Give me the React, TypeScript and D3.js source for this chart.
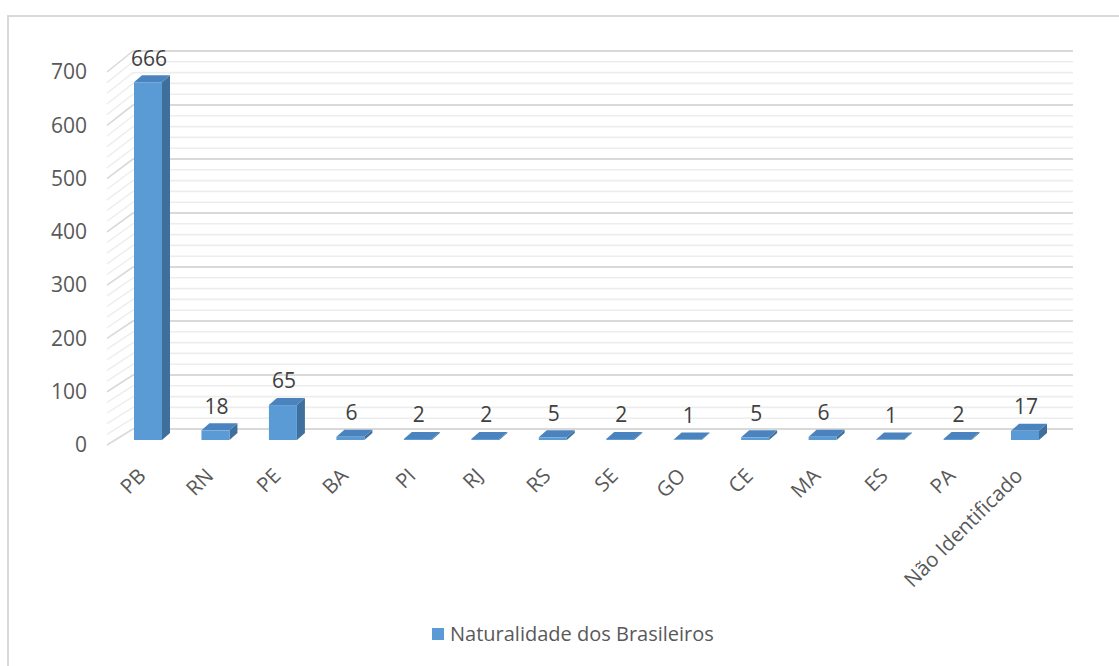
import React from "react";
import * as d3 from "d3";

const categories = ["PB", "RN", "PE", "BA", "PI", "RJ", "RS", "SE", "GO", "CE", "MA", "ES", "PA", "Não Identificado"];
const values = [666, 18, 65, 6, 2, 2, 5, 2, 1, 5, 6, 1, 2, 17];
const majorTicks = [0, 100, 200, 300, 400, 500, 600, 700];
const minorTicks = d3.range(0, 701, 20);
const seriesName = "Naturalidade dos Brasileiros";

const W = 1119;
const H = 666;
const FONT = "'Open Sans', 'Liberation Sans', sans-serif";
const TXT = "#595959";

export default function App() {
  const x = d3.scalePoint<string>().domain(categories).range([148, 1025]);
  const yFront = d3.scaleLinear().domain([0, 700]).range([445, 72]);
  const yBar = d3.scaleLinear().domain([0, 700]).range([440, 64]);
  const yBack = d3.scaleLinear().domain([0, 700]).range([429, 51]);
  const backL = 133;
  const backR = 1073;
  const frontL = 107;
  const bw = 28;
  const ddx = 8;
  const ddy = -7;

  return (
    <svg width={W} height={H} style={{ position: "absolute", left: 0, top: 0, background: "#fff" }}>
      <rect x={8} y={16} width={1120} height={700} fill="#fff" stroke="#d9d9d9" strokeWidth={2} />
      {/* back wall & side wall gridlines */}
      {minorTicks.map((t) => {
        const major = t % 100 === 0;
        return (
          <g key={t}>
            <line x1={backL} x2={backR} y1={yBack(t)} y2={yBack(t)} stroke={major ? "#d9d9d9" : "#ededed"} strokeWidth={major ? 2 : 1.6} />
            <line x1={frontL} x2={backL} y1={yFront(t)} y2={yBack(t)} stroke={major ? "#d9d9d9" : "#ededed"} strokeWidth={major ? 1.6 : 1.4} />
          </g>
        );
      })}
      {/* y labels */}
      {majorTicks.map((t) => (
        <text key={t} x={87} y={yFront(t)} dy="0.35em" textAnchor="end" fontFamily={FONT} fontSize={21} fill={TXT}>
          {t}
        </text>
      ))}
      {/* bars */}
      {values.map((v, i) => {
        const cx = x(categories[i])!;
        const x0 = cx - bw / 2;
        const x1 = cx + bw / 2;
        const yb = yBar(0);
        const yt = yBar(v);
        return (
          <g key={i}>
            <path d={`M${x1},${yb} L${x1 + ddx},${yb + ddy} L${x1 + ddx},${yt + ddy} L${x1},${yt} Z`} fill="#3f6f9c" />
            <path d={`M${x0},${yt} L${x0 + ddx},${yt + ddy} L${x1 + ddx},${yt + ddy} L${x1},${yt} Z`} fill="#4a83bd" />
            <rect x={x0} y={yt} width={bw} height={yb - yt} fill="#5b9bd5" />
            <text x={cx + 1} y={yt + ddy - 17} dy="0.35em" textAnchor="middle" fontFamily={FONT} fontSize={21} fill="#404040">
              {v}
            </text>
          </g>
        );
      })}
      {/* x labels */}
      {categories.map((c) => {
        const cx = x(c)!;
        return (
          <text key={c} transform={`translate(${cx - 6},${472}) rotate(-45)`} textAnchor="end" dy="0.35em" fontFamily={FONT} fontSize={20.5} fill={TXT}>
            {c}
          </text>
        );
      })}
      {/* legend */}
      <rect x={432} y={628} width={12} height={12} fill="#5b9bd5" />
      <text x={450} y={634} dy="0.35em" fontFamily={FONT} fontSize={20} fill={TXT}>
        {seriesName}
      </text>
    </svg>
  );
}
